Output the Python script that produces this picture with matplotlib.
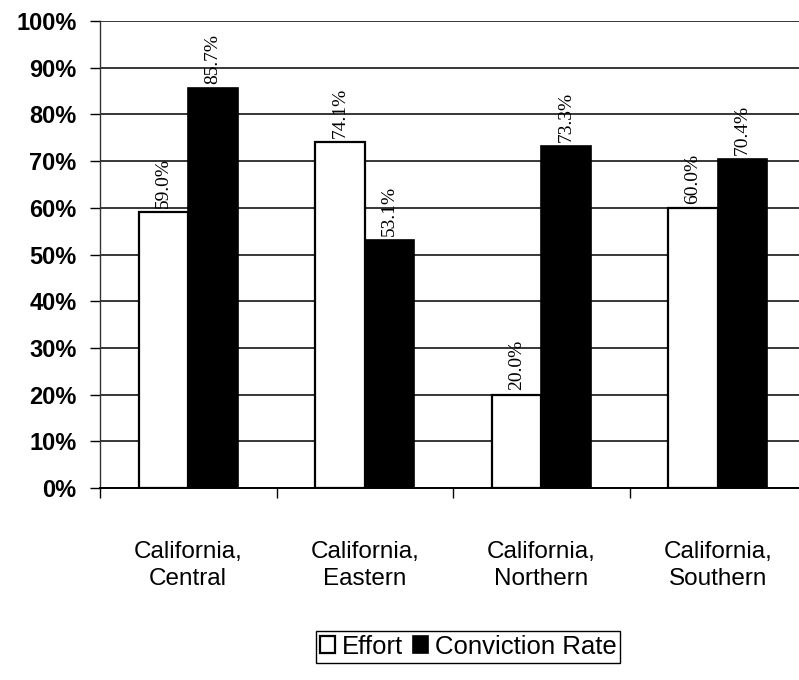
import matplotlib
matplotlib.use("Agg")
import matplotlib.pyplot as plt
import numpy as np
from matplotlib.ticker import FuncFormatter, MultipleLocator

districts = ["California,\nCentral", "California,\nEastern",
             "California,\nNorthern", "California,\nSouthern"]
effort = [59.0, 74.1, 20.0, 60.0]
conviction_rate = [85.7, 53.1, 73.3, 70.4]
series_names = ["Effort", "Conviction Rate"]

W, H = 799, 680
fig = plt.figure(figsize=(W / 100, H / 100), dpi=100)
ax = fig.add_axes([100 / W, 1 - 488 / H, 706 / W, 467 / H])

x = np.arange(len(districts))
bw = 0.28
b1 = ax.bar(x - bw / 2, effort, bw, color="white", edgecolor="black",
            linewidth=1.6, label=series_names[0], zorder=3)
b2 = ax.bar(x + bw / 2, conviction_rate, bw, color="black", edgecolor="black",
            linewidth=1.2, label=series_names[1], zorder=3)

for bars in (b1, b2):
    ax.bar_label(bars, fmt="%.1f%%", rotation=90, padding=3,
                 fontsize=14, family="Liberation Serif", color="black")

ax.set_xlim(-0.5, len(districts) - 0.5)
ax.set_ylim(0, 100)
ax.yaxis.set_major_locator(MultipleLocator(10))
ax.yaxis.set_major_formatter(FuncFormatter(lambda v, p: f"{v:.0f}%"))

# category labels at the centres, tick marks on the category boundaries
ax.set_xticks(x)
ax.set_xticklabels(districts, fontsize=17.5, family="Liberation Sans",
                   linespacing=1.3)
ax.set_xticks(np.arange(len(districts) + 1) - 0.5, minor=True)
ax.tick_params(axis="x", which="major", length=0, pad=38)
ax.tick_params(axis="x", which="minor", length=7, width=1, direction="out")

ax.tick_params(axis="y", length=7, width=1, direction="out", pad=10)
for lab in ax.get_yticklabels():
    lab.set_fontsize(17)
    lab.set_family("Liberation Sans")
    lab.set_fontweight("bold")

ax.grid(axis="y", color="black", linewidth=1.1, zorder=0)
ax.get_ygridlines()[-1].set_visible(False)
ax.get_ygridlines()[0].set_visible(False)

for side in ("top", "right"):
    ax.spines[side].set_visible(False)
ax.spines["left"].set_color("#333333")
ax.spines["left"].set_linewidth(1.0)
ax.spines["bottom"].set_linewidth(1.4)
ax.spines["bottom"].set_zorder(4)

leg = fig.legend(handles=[b1, b2], loc="upper center",
                 bbox_to_anchor=(468 / W, 1 - 618 / H), ncol=2,
                 frameon=True, fancybox=False, framealpha=1,
                 edgecolor="black", borderpad=0.15, handlelength=0.6,
                 handleheight=0.6, handletextpad=0.25, columnspacing=0.4,
                 prop={"family": "Liberation Sans", "size": 18.5})
leg.get_frame().set_linewidth(1.0)

fig.savefig("out.png", dpi=100)
